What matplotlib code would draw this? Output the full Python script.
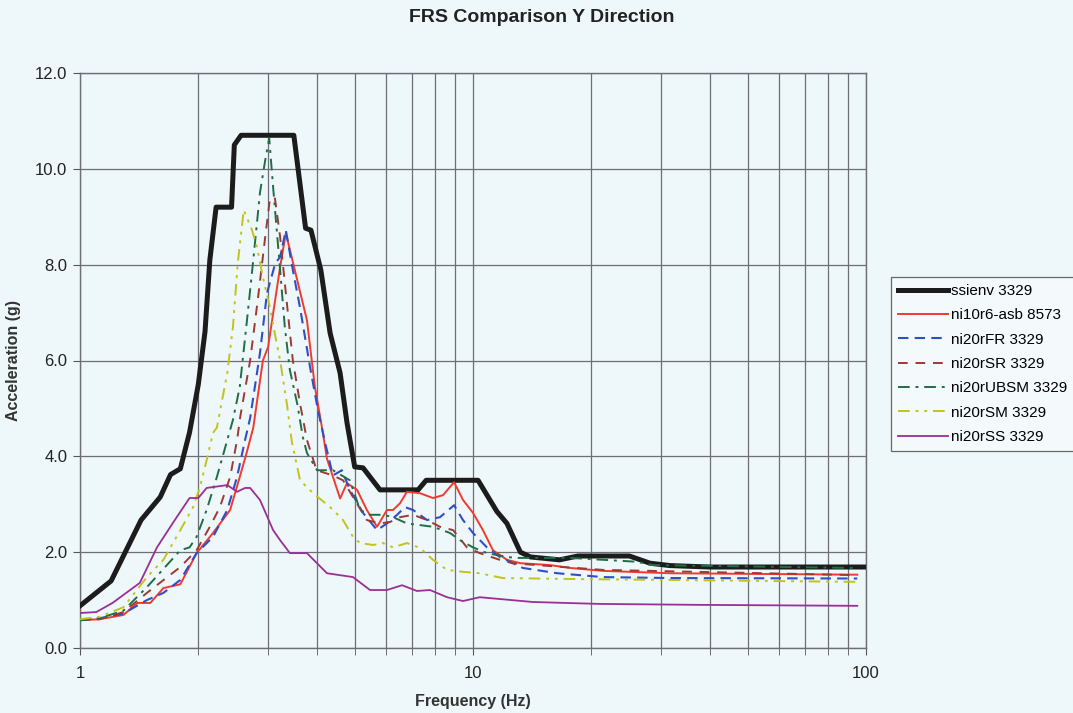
import matplotlib
matplotlib.use("Agg")
import matplotlib.pyplot as plt
from matplotlib.ticker import FixedLocator, NullFormatter, FuncFormatter

plt.rcParams['font.family'] = ['Liberation Sans', 'DejaVu Sans']

# ---- data ----
ssienv_f = [1.0, 1.2, 1.3, 1.43, 1.6, 1.7, 1.8, 1.9, 2.0, 2.08, 2.14, 2.22, 2.43, 2.47, 2.57,
            3.50, 3.75, 3.87, 4.10, 4.33, 4.59, 4.78, 5.0, 5.25, 5.8, 7.25, 7.6, 10.3, 11.5,
            12.2, 13.2, 14.0, 16.6, 18.5, 25.0, 28.2, 31.7, 40.0, 100.0]
ssienv_v = [0.88, 1.40, 1.98, 2.67, 3.15, 3.62, 3.74, 4.50, 5.50, 6.60, 8.10, 9.20, 9.20, 10.50, 10.70,
            10.70, 8.76, 8.72, 7.89, 6.57, 5.74, 4.70, 3.78, 3.76, 3.30, 3.30, 3.50, 3.50, 2.85,
            2.60, 2.00, 1.90, 1.84, 1.92, 1.92, 1.77, 1.72, 1.69, 1.69]

asb_f = [1.0, 1.12, 1.29, 1.40, 1.51, 1.63, 1.80, 1.98, 2.18, 2.41, 2.55, 2.66, 2.76, 2.92, 3.01,
         3.23, 3.34, 3.57, 3.78, 3.96, 4.15, 4.25, 4.59, 4.78, 5.07, 5.37, 5.70, 6.04, 6.26, 6.52,
         6.79, 7.33, 7.91, 8.39, 8.95, 9.43, 10.0, 10.6, 11.24, 12.2, 13.2, 15.7, 17.7, 21.4, 31.7, 95.0]
asb_v = [0.58, 0.60, 0.69, 0.94, 0.94, 1.25, 1.33, 1.98, 2.40, 2.88, 3.57, 4.10, 4.60, 6.00, 6.28,
         7.95, 8.66, 7.68, 6.84, 5.45, 4.49, 3.95, 3.12, 3.44, 3.30, 2.88, 2.53, 2.88, 2.88, 3.02,
         3.26, 3.23, 3.13, 3.19, 3.46, 3.09, 2.82, 2.46, 2.04, 1.84, 1.77, 1.73, 1.67, 1.61, 1.56, 1.53]

fr_f = [1.0, 1.12, 1.29, 1.48, 1.63, 1.80, 1.98, 2.18, 2.37, 2.51, 2.63, 2.71, 2.87, 2.99, 3.14,
        3.23, 3.34, 3.48, 3.63, 3.85, 4.03, 4.20, 4.40, 4.64, 4.86, 5.25, 5.70, 6.04, 6.41, 6.71,
        7.04, 7.64, 8.24, 8.95, 9.43, 10.0, 10.85, 11.7, 13.4, 16.4, 21.4, 31.7, 95.0]
fr_v = [0.60, 0.62, 0.72, 1.00, 1.15, 1.42, 1.98, 2.32, 2.88, 3.57, 4.34, 4.80, 6.15, 7.40, 8.03,
        8.16, 8.72, 7.89, 7.10, 5.86, 4.97, 4.30, 3.60, 3.71, 3.30, 2.82, 2.46, 2.60, 2.78, 2.94,
        2.88, 2.67, 2.73, 2.98, 2.67, 2.40, 2.10, 1.90, 1.67, 1.56, 1.48, 1.46, 1.45]

sr_f = [1.0, 1.12, 1.29, 1.48, 1.80, 1.98, 2.14, 2.27, 2.41, 2.51, 2.56, 2.71, 2.84, 2.96, 3.04,
        3.13, 3.23, 3.36, 3.48, 3.63, 3.78, 4.0, 4.4, 4.67, 4.95, 5.37, 5.80, 6.15, 6.52, 7.04,
        7.64, 8.24, 8.9, 9.65, 10.4, 11.7, 12.6, 14.55, 21.4, 95.0]
sr_v = [0.58, 0.60, 0.75, 1.15, 1.69, 2.04, 2.53, 2.94, 3.57, 4.34, 4.85, 6.00, 7.33, 8.58, 9.35,
        9.41, 8.58, 7.20, 6.00, 5.10, 4.34, 3.71, 3.60, 3.50, 3.15, 2.67, 2.60, 2.63, 2.73, 2.78,
        2.67, 2.53, 2.46, 2.10, 1.98, 1.84, 1.77, 1.73, 1.63, 1.52]

ubsm_f = [1.0, 1.12, 1.29, 1.48, 1.80, 1.90, 1.98, 2.10, 2.23, 2.37, 2.45, 2.55, 2.66, 2.76, 2.87,
          2.96, 3.03, 3.10, 3.23, 3.32, 3.42, 3.57, 3.69, 3.78, 4.01, 4.40, 4.86, 5.16, 5.47, 5.90,
          6.26, 6.79, 7.91, 8.74, 9.27, 10.0, 10.85, 12.2, 12.9, 17.7, 26.1, 28.7, 95.0]
ubsm_v = [0.58, 0.62, 0.78, 1.27, 2.04, 2.10, 2.32, 2.88, 3.57, 4.34, 4.76, 5.45, 6.84, 8.10, 9.50,
          10.18, 10.64, 9.62, 7.89, 6.70, 5.80, 5.10, 4.40, 4.07, 3.71, 3.71, 3.50, 2.88, 2.78, 2.78,
          2.73, 2.60, 2.53, 2.40, 2.25, 2.10, 1.98, 1.90, 1.88, 1.88, 1.80, 1.73, 1.67]

sm_f = [1.0, 1.12, 1.29, 1.48, 1.63, 1.80, 1.94, 2.02, 2.10, 2.18, 2.23, 2.37, 2.45, 2.52, 2.61,
        2.74, 2.82, 2.92, 3.04, 3.13, 3.23, 3.36, 3.46, 3.63, 3.92, 4.33, 4.67, 4.95, 5.16, 5.57,
        5.90, 6.26, 6.79, 7.33, 7.91, 8.59, 9.43, 10.4, 11.9, 17.7, 31.7, 95.0]
sm_v = [0.60, 0.65, 0.85, 1.48, 1.84, 2.46, 2.94, 3.36, 3.92, 4.49, 4.60, 5.74, 6.70, 8.03, 9.14,
        8.72, 8.37, 7.74, 7.12, 6.57, 6.00, 5.10, 4.30, 3.50, 3.23, 2.94, 2.67, 2.32, 2.19, 2.15,
        2.19, 2.10, 2.19, 2.09, 1.84, 1.63, 1.59, 1.56, 1.46, 1.44, 1.42, 1.38]

ss_f = [1.0, 1.10, 1.21, 1.42, 1.57, 1.72, 1.90, 2.0, 2.10, 2.37, 2.51, 2.63, 2.71, 2.87, 3.10,
        3.23, 3.42, 3.78, 4.25, 4.95, 5.47, 6.04, 6.6, 7.2, 7.77, 8.59, 9.43, 10.4, 14.2, 21.0,
        38.0, 95.0]
ss_v = [0.73, 0.75, 0.94, 1.36, 2.10, 2.60, 3.13, 3.13, 3.34, 3.40, 3.26, 3.34, 3.34, 3.09, 2.46,
        2.25, 1.98, 1.98, 1.56, 1.48, 1.21, 1.21, 1.31, 1.19, 1.21, 1.06, 0.98, 1.06, 0.96, 0.92,
        0.90, 0.88]

labels = ['ssienv 3329', 'ni10r6-asb 8573', 'ni20rFR 3329', 'ni20rSR 3329',
          'ni20rUBSM 3329', 'ni20rSM 3329', 'ni20rSS 3329']
y_ticks = [0.0, 2.0, 4.0, 6.0, 8.0, 10.0, 12.0]
x_ticks = [1, 10, 100]

# ---- figure ----
bg = '#eef7f9'
fig = plt.figure(figsize=(10.73, 7.13), dpi=100, facecolor=bg)
ax = fig.add_axes([80 / 1073, 1 - 648 / 713, 786 / 1073, 575 / 713], facecolor=bg)

ax.plot(ssienv_f, ssienv_v, color='#1c1c1c', lw=3.6, label=labels[0], zorder=3)
ax.plot(asb_f, asb_v, color='#f23a2e', lw=1.4, label=labels[1], zorder=4)
ax.plot(fr_f, fr_v, color='#2f4fc8', lw=1.5, dashes=(5, 3), label=labels[2], zorder=4)
ax.plot(sr_f, sr_v, color='#9c3a34', lw=1.4, dashes=(5, 4), label=labels[3], zorder=4)
ax.plot(ubsm_f, ubsm_v, color='#1f6e45', lw=1.4, dashes=(6, 3, 1.5, 3), label=labels[4], zorder=4)
ax.plot(sm_f, sm_v, color='#c4c31c', lw=1.4, dashes=(6, 3, 1.5, 3, 1.5, 3), label=labels[5], zorder=4)
ax.plot(ss_f, ss_v, color='#9b2f95', lw=1.3, label=labels[6], zorder=4)

ax.set_xscale('log')
ax.set_xlim(1, 100)
ax.set_ylim(0, 12)
ax.xaxis.set_major_locator(FixedLocator(x_ticks))
ax.xaxis.set_minor_locator(FixedLocator([2, 3, 4, 5, 6, 7, 8, 9, 20, 30, 40, 50, 60, 70, 80, 90]))
ax.xaxis.set_major_formatter(FuncFormatter(lambda v, p: f'{v:g}'))
ax.xaxis.set_minor_formatter(NullFormatter())
ax.yaxis.set_major_locator(FixedLocator(y_ticks))
ax.yaxis.set_major_formatter(FuncFormatter(lambda v, p: f'{v:.1f}'))

ax.grid(True, which='both', axis='x', color='#6e6e78', lw=0.9)
ax.grid(True, which='major', axis='y', color='#6e6e78', lw=0.9)
ax.set_axisbelow(True)
for s in ax.spines.values():
    s.set_color('#6e6e78')
    s.set_linewidth(1.0)

ax.tick_params(axis='both', which='both', direction='out', colors='#555560',
               labelcolor='#222222', labelsize=12)
ax.tick_params(axis='x', which='major', length=5, pad=8)
ax.tick_params(axis='x', which='minor', length=5)
ax.tick_params(axis='y', length=5, pad=4)

ax.set_xlabel('Frequency (Hz)', fontsize=11.5, fontweight='bold', color='#333333', labelpad=9)
ax.set_ylabel('Acceleration (g)', fontsize=11.5, fontweight='bold', color='#333333', labelpad=10)
fig.text(0.505, 0.976, 'FRS Comparison Y Direction', ha='center', va='center',
         fontsize=14, fontweight='bold', color='#222222')

handles, labs = ax.get_legend_handles_labels()
leg = fig.legend(handles, labs, loc='upper left', bbox_to_anchor=(891 / 1073, 1 - 277 / 713),
                 fontsize=11, handlelength=3.3, handletextpad=0.15, labelspacing=0.68,
                 frameon=True, fancybox=False, borderpad=0.45, borderaxespad=0)
leg.get_frame().set_edgecolor('#444444')
leg.get_frame().set_linewidth(0.9)
leg.get_frame().set_facecolor('#f6fbfc')

fig.savefig('out.png', dpi=100, facecolor=bg)
